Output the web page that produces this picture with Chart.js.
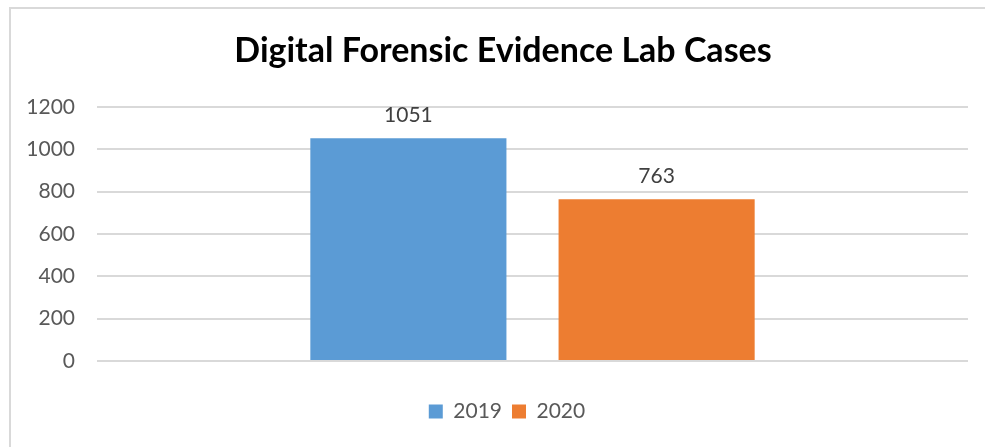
<!DOCTYPE html>
<html>
<head>
<meta charset="utf-8">
<script src="https://cdn.jsdelivr.net/npm/chart.js@4"></script>
<style>
  html, body { margin: 0; padding: 0; background: #fff; }
  #wrap { position: absolute; left: 0; top: 0; width: 985px; height: 447px; }
  #frame { position: absolute; left: 9px; top: 7px; width: 1000px; height: 460px;
           border-left: 2px solid #d9d9d9; border-top: 2px solid #d9d9d9; pointer-events: none; }
</style>
</head>
<body>
<div id="wrap"><canvas id="labChart" width="985" height="447"></canvas></div>
<div id="frame"></div>
<script>
// chart data
var categories = [''];
var seriesNames = ['2019', '2020'];
var casesPerYear = [[1051], [763]];
var seriesColors = ['#5B9BD5', '#ED7D31'];
var yTicks = [0, 200, 400, 600, 800, 1000, 1200];

var fontFamily = 'Lato, "Open Sans", sans-serif';

// draw the value above each bar
var barValues = {
    id: 'barValues',
    afterDatasetsDraw: function (chart) {
        var ctx = chart.ctx;
        ctx.save();
        ctx.font = '21px ' + fontFamily;
        ctx.fillStyle = '#404040';
        ctx.textAlign = 'center';
        ctx.textBaseline = 'bottom';
        chart.data.datasets.forEach(function (ds, i) {
            chart.getDatasetMeta(i).data.forEach(function (bar, j) {
                ctx.fillText(ds.data[j], bar.x, bar.y - 13);
            });
        });
        ctx.restore();
    }
};

// title and legend sit a bit right of the canvas centre
var shiftBoxes = {
    id: 'shiftBoxes',
    afterLayout: function (chart) {
        if (chart.titleBlock) { chart.titleBlock.left += 19; chart.titleBlock.right += 19; }
        if (chart.legend) { chart.legend.left += 23; chart.legend.right += 23; }
    }
};

var datasets = seriesNames.map(function (name, i) {
    return {
        label: name,
        data: casesPerYear[i],
        backgroundColor: seriesColors[i],
        borderWidth: 0,
        categoryPercentage: 0.57,
        barPercentage: 0.79
    };
});

var ctx = document.getElementById('labChart').getContext('2d');
var chart = new Chart(ctx, {
    type: 'bar',
    data: { labels: categories, datasets: datasets },
    plugins: [barValues, shiftBoxes],
    options: {
        responsive: false,
        animation: false,
        layout: { padding: { left: 0, right: 17, top: 0, bottom: 15 } },
        plugins: {
            title: {
                display: true,
                text: 'Digital Forensic Evidence Lab Cases',
                color: '#000',
                font: { family: fontFamily, size: 34, weight: 'bold' },
                padding: { top: 31, bottom: 35 }
            },
            legend: {
                position: 'bottom',
                labels: {
                    color: '#595959',
                    font: { family: fontFamily, size: 21 },
                    boxWidth: 14,
                    boxHeight: 14,
                    padding: 10
                }
            },
            tooltip: { enabled: false }
        },
        scales: {
            x: {
                grid: { display: false },
                border: { display: false },
                ticks: { display: false },
                afterFit: function (scale) { scale.height = 30; }
            },
            y: {
                min: 0,
                max: 1200,
                afterBuildTicks: function (scale) {
                    scale.ticks = yTicks.map(function (v) { return { value: v }; });
                },
                afterFit: function (scale) { scale.width = 97; },
                grid: { color: '#d9d9d9', lineWidth: 2, drawTicks: false },
                border: { display: false },
                ticks: {
                    color: '#595959',
                    font: { family: fontFamily, size: 21 },
                    padding: 22,
                    callback: function (v) { return String(v); }
                }
            }
        }
    }
});
</script>
</body>
</html>
